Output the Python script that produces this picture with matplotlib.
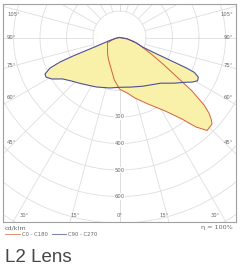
import numpy as np
import matplotlib
matplotlib.use("Agg")
import matplotlib.pyplot as plt

# ---- data (gamma angle in degrees from nadir; + = C0 / C90 side, - = C180 / C270 side) ----
red_angles = [-90, -80, -72, -66, -55, -44, -35, -26, -14, -7, 0, 7.7, 14.4, 23.2, 31.8, 37.5, 40.5, 43.3,
              46.9, 48.1, 49.8, 51.4, 53.6, 55.5, 58.6, 62, 69.4, 75, 82, 90]
red_values = [0, 8, 28, 50, 55, 65, 78, 94, 126, 161, 195, 211, 236, 273, 326, 388, 444, 482,
              478, 466, 442, 408, 340, 263, 192, 141, 81, 55, 25, 0]

blue_angles = [-90, -80, -73, -69.3, -68.3, -67.6, -66.3, -63.9, -61.7, -58.4, -54, -48, -41, -33, -25, -11, 0,
               13, 25, 32, 42, 50, 56, 58.5, 61, 63.3, 65, 65.5, 65.8, 66.3, 67.6, 72, 80, 90]
blue_values = [0, 12, 40, 91, 189, 243, 286, 313, 315, 299, 266, 245, 229, 215, 206, 194, 188,
               192, 203, 212, 232, 268, 302, 322, 337, 333, 312, 278, 207, 140, 94, 67, 30, 0]

grid_radii = [100, 200, 300, 400, 500, 600, 700, 800, 900]
radius_labels = [300, 400, 500, 600]
angle_ticks = [0, 15, 30, 45, 60, 75, 90, 105, 120, 135, 150, 165, 180]
side_labels = [45, 60, 75, 90, 105]
bottom_labels = [-30, -15, 0, 15, 30]
legend_labels = ["C0 - C180", "C90 - C270"]
unit_label = "cd/klm"
eta_label = "\u03b7 = 100%"
title = "L2 Lens"

RED = "#d2603c"
BLUE = "#4f4f96"
FILL = "#f9f1a9"
GRID = "#dedede"
TXT = "#666666"

W, H = 241, 268
fig = plt.figure(figsize=(W / 100, H / 100), dpi=100)
plt.rcParams['font.family'] = ['DejaVu Sans']

# box in pixels
bx0, bx1, by0, by1 = 3, 236, 4, 222
cx, cy = 119.5, 37.5
s = 0.265  # px per cd/klm
ax = fig.add_axes([bx0 / W, 1 - by1 / H, (bx1 - bx0) / W, (by1 - by0) / H])
xmin, xmax = (bx0 - cx) / s, (bx1 - cx) / s
ymax, ymin = (cy - by0) / s, -(by1 - cy) / s
ax.set_xlim(xmin, xmax)
ax.set_ylim(ymin, ymax)
ax.set_xticks([])
ax.set_yticks([])
for sp in ax.spines.values():
    sp.set_color("#a0a0a0")
    sp.set_linewidth(0.8)


def to_xy(a, r):
    a = np.radians(np.asarray(a, float))
    r = np.asarray(r, float)
    return r * np.sin(a), -r * np.cos(a)


# grid
t = np.linspace(0, 2 * np.pi, 400)
for R in grid_radii:
    ax.plot(R * np.cos(t), R * np.sin(t), color=GRID, lw=0.6, zorder=1)
for g in angle_ticks:
    for sgn in (1, -1):
        x, y = to_xy([sgn * g, sgn * g], [100, 1200])
        ax.plot(x, y, color=GRID, lw=0.6, zorder=1)

# curves
rx, ry = to_xy(red_angles, red_values)
bxp, byp = to_xy(blue_angles, blue_values)
ax.fill(rx, ry, color=FILL, lw=0, zorder=2)
ax.fill(bxp, byp, color=FILL, lw=0, zorder=2)
ax.plot(rx, ry, color=RED, lw=0.7, zorder=3)
ax.plot(bxp, byp, color=BLUE, lw=0.8, zorder=3)

# radius labels
for R in radius_labels:
    ax.text(0, -R, str(R), fontsize=3.8, color=TXT, ha="center", va="center", zorder=4,
            bbox=dict(boxstyle="square,pad=0.1", fc="white", ec="none"))

# angle labels on the sides
X = 395
for g in side_labels:
    yv = -X / np.tan(np.radians(g))
    yv = min(yv, ymax - 40)
    ax.text(xmin + 15, yv, f"{g}\u00b0", fontsize=3.8, color=TXT, ha="left", va="center", zorder=4)
    ax.text(xmax - 12, yv, f"{g}\u00b0", fontsize=3.8, color=TXT, ha="right", va="center", zorder=4)
Yb = -672
for g in bottom_labels:
    xv = -Yb * np.tan(np.radians(g)) * 0.93
    ax.text(xv, Yb, f"{abs(g)}\u00b0", fontsize=3.8, color=TXT, ha="center", va="center", zorder=4)

# texts below
fig.text(5 / W, 1 - 228 / H, unit_label, fontsize=4.6, color=TXT, ha="left", va="center")
fig.text(233 / W, 1 - 228 / H, eta_label, fontsize=4.6, color=TXT, ha="right", va="center")
ly = 1 - 234 / H
fig.add_artist(plt.Line2D([5 / W, 20 / W], [ly, ly], color=RED, lw=0.7, alpha=0.7))
fig.text(22 / W, ly, legend_labels[0], fontsize=3.8, color=TXT, ha="left", va="center")
fig.add_artist(plt.Line2D([52 / W, 66 / W], [ly, ly], color=BLUE, lw=0.8, alpha=0.7))
fig.text(68 / W, ly, legend_labels[1], fontsize=3.8, color=TXT, ha="left", va="center")

fig.text(5 / W, 1 - 257.5 / H, title, fontsize=13.5, color="#474747", ha="left", va="center",
         family=["Liberation Sans", "DejaVu Sans"])

fig.savefig("out.png", dpi=100)
